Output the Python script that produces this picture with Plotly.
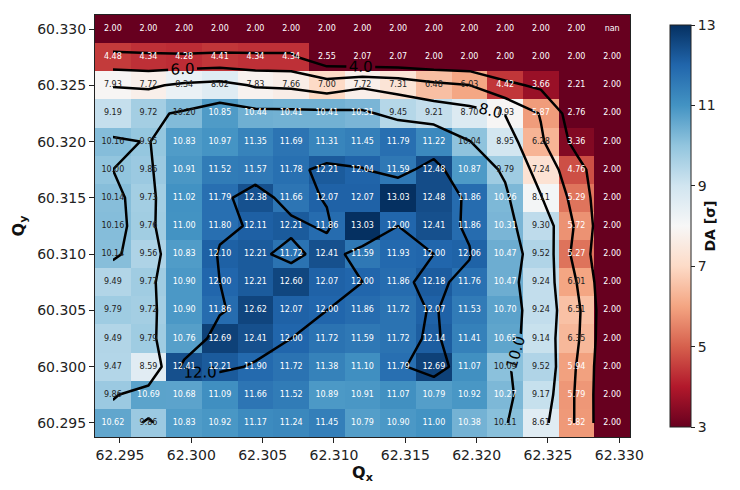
import numpy as np
import plotly.graph_objects as go
import plotly.express as px

# Tune grid (cell centres)
qx = [62.2945, 62.2970, 62.2995, 62.3020, 62.3045, 62.3070, 62.3095, 62.3120,
      62.3145, 62.3170, 62.3195, 62.3220, 62.3245, 62.3270, 62.3295]
qy_top_down = [60.3300, 60.3275, 60.3250, 60.3225, 60.3200, 60.3175, 60.3150, 60.3125,
               60.3100, 60.3075, 60.3050, 60.3025, 60.3000, 60.2975, 60.2950]

# Dynamic aperture per tune point, rows listed from highest Qy to lowest
da_rows = [
    [2.00, 2.00, 2.00, 2.00, 2.00, 2.00, 2.00, 2.00, 2.00, 2.00, 2.00, 2.00, 2.00, 2.00, np.nan],
    [4.48, 4.34, 4.28, 4.41, 4.34, 4.34, 2.55, 2.07, 2.07, 2.00, 2.00, 2.00, 2.00, 2.00, 2.00],
    [7.93, 7.72, 8.34, 8.62, 7.83, 7.66, 7.00, 7.72, 7.31, 6.48, 6.03, 4.42, 3.66, 2.21, 2.00],
    [9.19, 9.72, 10.20, 10.85, 10.44, 10.41, 10.41, 10.31, 9.45, 9.21, 8.70, 7.93, 5.87, 2.76, 2.00],
    [10.16, 9.95, 10.83, 10.97, 11.35, 11.69, 11.31, 11.45, 11.79, 11.22, 10.04, 8.95, 6.28, 3.36, 2.00],
    [10.00, 9.86, 10.91, 11.52, 11.57, 11.78, 12.21, 12.04, 11.59, 12.48, 10.87, 9.79, 7.24, 4.76, 2.00],
    [10.14, 9.73, 11.02, 11.79, 12.38, 11.66, 12.07, 12.07, 13.03, 12.48, 11.86, 10.26, 8.11, 5.29, 2.00],
    [10.16, 9.76, 11.00, 11.80, 12.11, 12.21, 11.86, 13.03, 12.00, 12.41, 11.86, 10.31, 9.30, 5.72, 2.00],
    [10.14, 9.56, 10.83, 12.10, 12.21, 11.72, 12.41, 11.59, 11.93, 12.00, 12.06, 10.47, 9.52, 5.27, 2.00],
    [9.49, 9.77, 10.90, 12.00, 12.21, 12.60, 12.07, 12.00, 11.86, 12.18, 11.76, 10.47, 9.24, 6.01, 2.00],
    [9.79, 9.72, 10.90, 11.86, 12.62, 12.07, 12.00, 11.86, 11.72, 12.07, 11.53, 10.70, 9.24, 6.51, 2.00],
    [9.49, 9.79, 10.76, 12.69, 12.41, 12.00, 11.72, 11.59, 11.72, 12.14, 11.41, 10.65, 9.14, 6.35, 2.00],
    [9.47, 8.59, 12.41, 12.21, 11.90, 11.72, 11.38, 11.10, 11.79, 12.69, 11.07, 10.09, 9.52, 5.94, 2.00],
    [9.86, 10.69, 10.68, 11.09, 11.66, 11.52, 10.89, 10.91, 11.07, 10.79, 10.92, 10.27, 9.17, 5.79, 2.00],
    [10.62, 9.86, 10.83, 10.92, 11.17, 11.24, 11.45, 10.79, 10.90, 11.00, 10.38, 10.11, 8.61, 5.82, 2.00],
]

contour_levels = [4, 12, 2]  # start, end, step
cbar_ticks = [3, 5, 7, 9, 11, 13]
x_ticks = [62.295, 62.300, 62.305, 62.310, 62.315, 62.320, 62.325, 62.330]
y_ticks = [60.295, 60.300, 60.305, 60.310, 60.315, 60.320, 60.325, 60.330]

qy = qy_top_down[::-1]
Z = np.array(da_rows, dtype=float)[::-1]

cmap = px.colors.diverging.RdBu

dx = qx[1] - qx[0]
dy = qy[1] - qy[0]

fig = go.Figure()

fig.add_trace(go.Heatmap(
    x=qx, y=qy, z=Z, zmin=3, zmax=13, colorscale=cmap,
    hoverinfo="skip",
    colorbar=dict(
        x=1.056, xanchor="left", xref="paper",
        y=0.5, yanchor="middle", len=1.0, lenmode="fraction",
        thickness=21, outlinewidth=1, outlinecolor="#222",
        tickvals=cbar_ticks, ticks="outside", ticklen=4, tickcolor="#222",
        tickfont=dict(family="DejaVu Sans", size=14, color="#222"),
        title=dict(text="<b>DA [σ]</b>", side="right",
                   font=dict(family="DejaVu Sans", size=14, color="#111")),
    ),
))

# Value labels in each cell
XX, YY = np.meshgrid(qx, qy)
labels, colors = [], []
for v in Z.ravel():
    if np.isnan(v):
        labels.append("nan")
        colors.append("white")
    else:
        labels.append(f"{v:.2f}")
        colors.append("white" if (v < 6.0 or v > 10.2) else "#222")

fig.add_trace(go.Scatter(
    x=XX.ravel(), y=YY.ravel(), mode="text", text=labels,
    textfont=dict(family="DejaVu Sans", size=8, color=colors),
    hoverinfo="skip", showlegend=False,
))

fig.add_trace(go.Contour(
    x=qx, y=qy, z=Z,
    contours=dict(start=contour_levels[0], end=contour_levels[1], size=contour_levels[2],
                  coloring="none", showlabels=True, labelformat=".1f",
                  labelfont=dict(family="DejaVu Sans", size=15, color="black")),
    line=dict(color="black", width=2.5, smoothing=0),
    showscale=False, hoverinfo="skip",
))

axis_common = dict(
    showline=True, linecolor="#222", linewidth=1, mirror=True,
    ticks="outside", ticklen=5, tickcolor="#222", showgrid=False, zeroline=False,
    tickfont=dict(family="DejaVu Sans", size=14, color="#222"),
)

fig.update_xaxes(
    range=[qx[0] - dx / 2, qx[-1] + dx / 2], tickvals=x_ticks, tickformat=".3f",
    title=dict(text="<b>Q<sub>x</sub></b>", font=dict(family="DejaVu Sans", size=16, color="#111"),
               standoff=4),
    **axis_common,
)
fig.update_yaxes(
    range=[qy[0] - dy / 2, qy[-1] + dy / 2], tickvals=y_ticks, tickformat=".3f",
    title=dict(text="<b>Q<sub>y</sub></b>", font=dict(family="DejaVu Sans", size=16, color="#111"),
               standoff=8),
    **axis_common,
)

fig.update_layout(
    width=740, height=490,
    margin=dict(l=95, r=99, t=15, b=45),
    paper_bgcolor="white", plot_bgcolor=cmap[0],
    showlegend=False,
)

fig.write_html("out.html")
